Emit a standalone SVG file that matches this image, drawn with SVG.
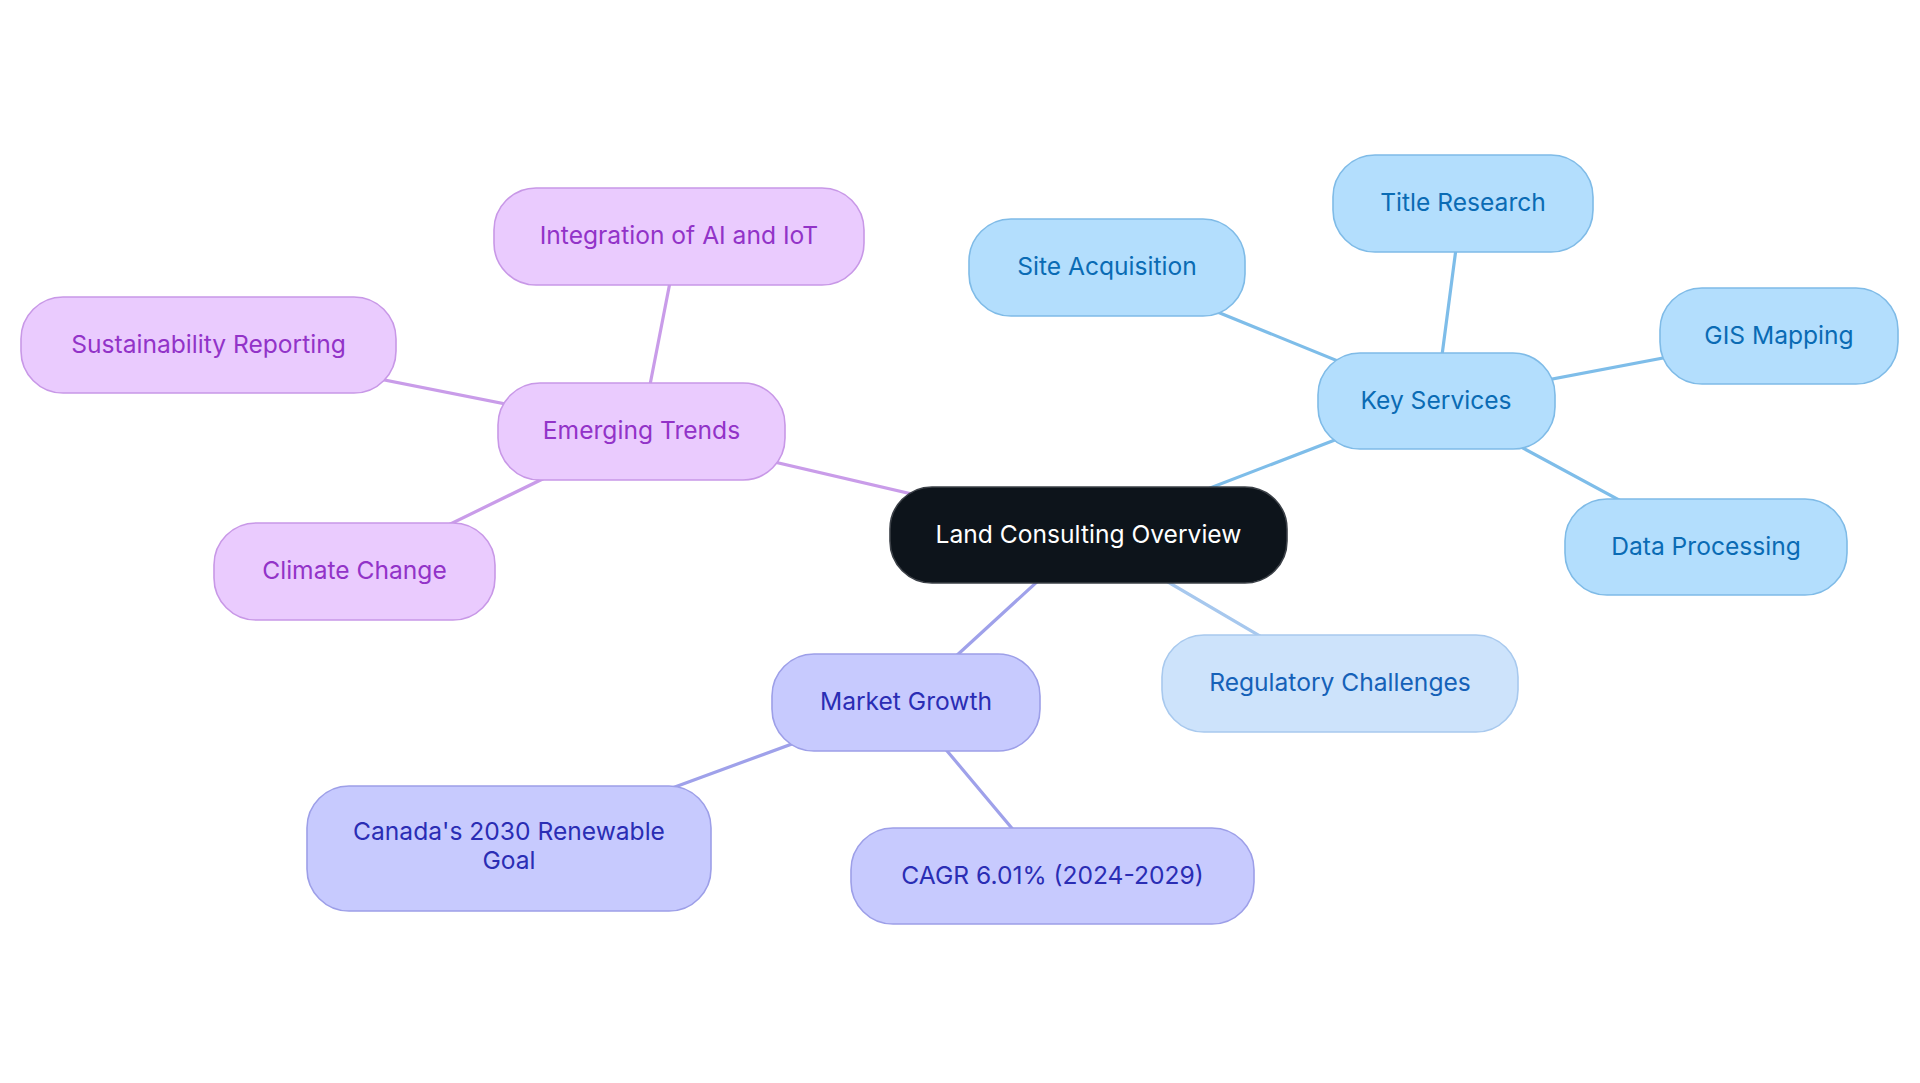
<svg xmlns="http://www.w3.org/2000/svg" width="1920" height="1083" viewBox="0 0 1920 1083">
<style>
text{font-family:Inter,"Noto Sans","Liberation Sans",sans-serif;font-size:24.6px;text-anchor:middle}
.edge{fill:none;stroke-width:3.2;stroke-linecap:round}
.eb{stroke:#7ebde9}
.er{stroke:#a7c8ee}
.ep{stroke:#c99ce9}
.ei{stroke:#9fa1ea}
.nb rect{fill:#b3defd;stroke:#7fbbe7;stroke-width:1.6}
.nb text{fill:#0a6bb4}
.nr rect{fill:#cde3fb;stroke:#a8c9ee;stroke-width:1.6}
.nr text{fill:#1561b8}
.np rect{fill:#eacbfe;stroke:#c898e7;stroke-width:1.6}
.np text{fill:#9233c8}
.ni rect{fill:#c7cafe;stroke:#9d9fe8;stroke-width:1.6}
.ni text{fill:#2a2db4}
.nc rect{fill:#0d141b;stroke:#3b4047;stroke-width:1.6}
.nc text{fill:#ffffff}
</style>
<rect width="1920" height="1083" fill="#ffffff"/>
<g id="connectors">
<line class="edge eb" x1="1088" y1="535" x2="1436" y2="401"/>
<line class="edge eb" x1="1436" y1="401" x2="1107" y2="267"/>
<line class="edge eb" x1="1436" y1="401" x2="1462" y2="203"/>
<line class="edge eb" x1="1436" y1="401" x2="1779" y2="336"/>
<line class="edge eb" x1="1436" y1="401" x2="1706" y2="547"/>
<line class="edge er" x1="1088" y1="535" x2="1340" y2="683"/>
<line class="edge ep" x1="1088" y1="535" x2="641" y2="431"/>
<line class="edge ep" x1="641" y1="431" x2="679" y2="236"/>
<line class="edge ep" x1="641" y1="431" x2="208" y2="345"/>
<line class="edge ep" x1="641" y1="431" x2="354" y2="571"/>
<line class="edge ei" x1="1088" y1="535" x2="906" y2="702"/>
<line class="edge ei" x1="906" y1="702" x2="509" y2="848"/>
<line class="edge ei" x1="906" y1="702" x2="1052" y2="876"/>
</g>
<g id="n-root" class="nc"><rect x="890" y="487" width="397" height="96" rx="42"/><text x="1088.5" y="543">Land Consulting Overview</text></g>
<g id="n-key" class="nb"><rect x="1318" y="353" width="237" height="96" rx="42"/><text x="1436" y="409">Key Services</text></g>
<g id="n-site" class="nb"><rect x="969" y="219" width="276" height="97" rx="42"/><text x="1107" y="275">Site Acquisition</text></g>
<g id="n-title" class="nb"><rect x="1333" y="155" width="260" height="97" rx="42"/><text x="1463" y="211">Title Research</text></g>
<g id="n-gis" class="nb"><rect x="1660" y="288" width="238" height="96" rx="42"/><text x="1779" y="344">GIS Mapping</text></g>
<g id="n-data" class="nb"><rect x="1565" y="499" width="282" height="96" rx="42"/><text x="1706" y="555">Data Processing</text></g>
<g id="n-reg" class="nr"><rect x="1162" y="635" width="356" height="97" rx="42"/><text x="1340" y="691">Regulatory Challenges</text></g>
<g id="n-trends" class="np"><rect x="498" y="383" width="287" height="97" rx="42"/><text x="641.5" y="439">Emerging Trends</text></g>
<g id="n-ai" class="np"><rect x="494" y="188" width="370" height="97" rx="42"/><text x="679" y="244">Integration of AI and IoT</text></g>
<g id="n-sust" class="np"><rect x="21" y="297" width="375" height="96" rx="42"/><text x="208.5" y="353">Sustainability Reporting</text></g>
<g id="n-climate" class="np"><rect x="214" y="523" width="281" height="97" rx="42"/><text x="354.5" y="579">Climate Change</text></g>
<g id="n-market" class="ni"><rect x="772" y="654" width="268" height="97" rx="42"/><text x="906" y="710">Market Growth</text></g>
<g id="n-canada" class="ni"><rect x="307" y="786" width="404" height="125" rx="42"/><text x="509" y="840">Canada's 2030 Renewable</text><text x="509" y="869">Goal</text></g>
<g id="n-cagr" class="ni"><rect x="851" y="828" width="403" height="96" rx="42"/><text x="1052.5" y="884">CAGR 6.01% (2024-2029)</text></g>
</svg>
